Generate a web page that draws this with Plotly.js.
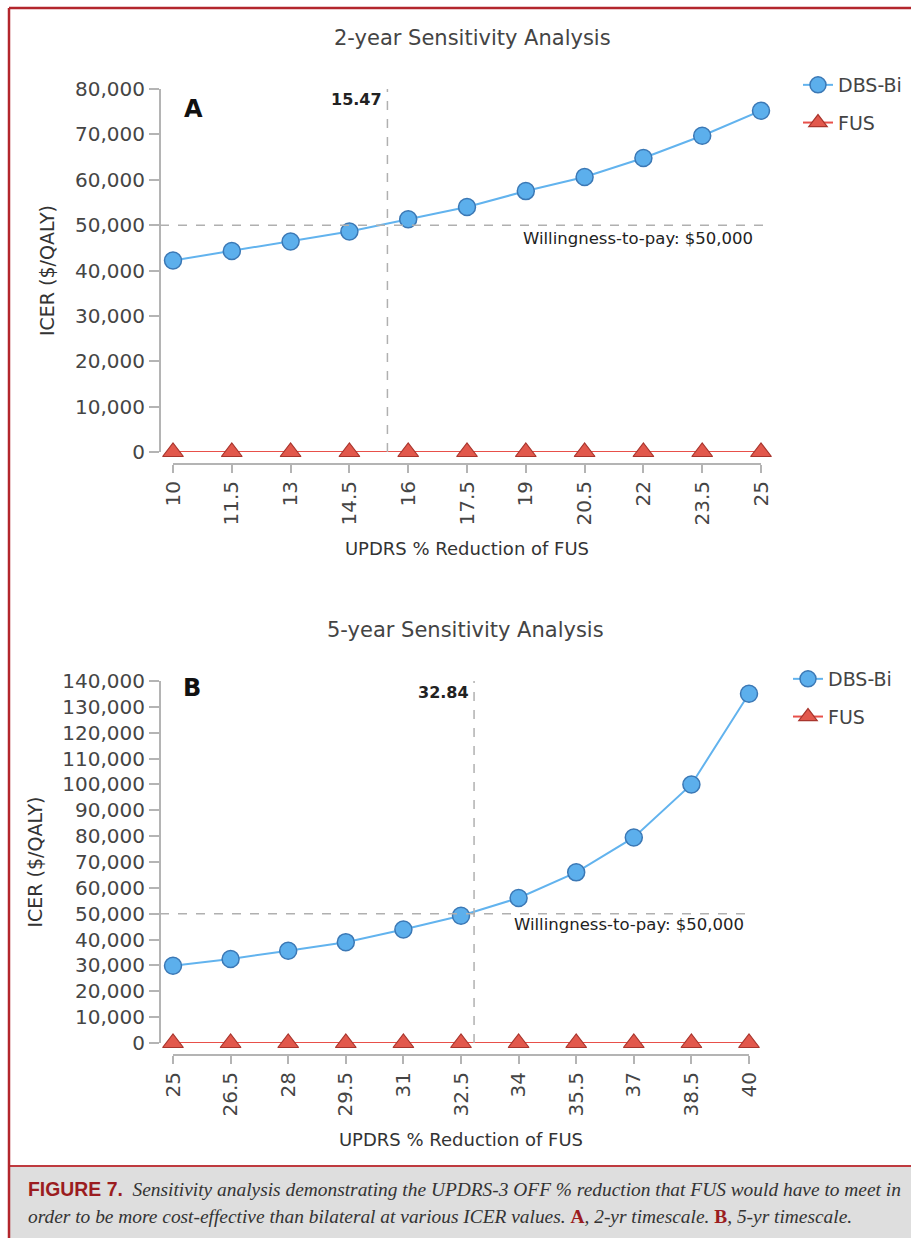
<!DOCTYPE html>
<html><head><meta charset="utf-8">
<script src="https://cdn.plot.ly/plotly-3.0.1.min.js"></script>
<style>html,body{margin:0;padding:0;background:#fff;}#chart{width:911px;height:1238px;}</style>
</head><body><div id="chart"></div>
<script>
// ---- data ----
const reductionA = [10, 11.5, 13, 14.5, 16, 17.5, 19, 20.5, 22, 23.5, 25];
const dbsBiA = [42200, 44300, 46400, 48600, 51300, 54000, 57500, 60600, 64800, 69700, 75200];
const fusA = [0, 0, 0, 0, 0, 0, 0, 0, 0, 0, 0];
const reductionB = [25, 26.5, 28, 29.5, 31, 32.5, 34, 35.5, 37, 38.5, 40];
const dbsBiB = [29900, 32500, 35700, 39000, 43900, 49200, 56100, 66000, 79500, 100000, 135100];
const fusB = [0, 0, 0, 0, 0, 0, 0, 0, 0, 0, 0];
const thresholdA = 15.47;
const thresholdB = 32.84;
const wtp = 50000;
const yTicksA = [0, 10000, 20000, 30000, 40000, 50000, 60000, 70000, 80000];
const yTicksB = [0, 10000, 20000, 30000, 40000, 50000, 60000, 70000, 80000, 90000, 100000, 110000, 120000, 130000, 140000];
const seriesNames = ['DBS-Bi', 'FUS'];
const titleA = '2-year Sensitivity Analysis';
const titleB = '5-year Sensitivity Analysis';
const xTitle = 'UPDRS % Reduction of FUS';
const yTitle = 'ICER ($/QALY)';
const wtpLabel = 'Willingness-to-pay: $50,000';

// ---- layout helpers (pixel -> paper) ----
const W = 911, H = 1238;
const px = v => v / W;
const py = v => 1 - v / H;

const SANS = 'DejaVu Sans';
const blue = '#5cafec', blueEdge = '#3b78b5', red = '#e2584c', redEdge = '#a8352d';
const axisGrey = '#b4b4b4';
const tickFont = {family: SANS, size: 20, color: '#454545'};

function dbsTrace(x, y, xa, ya, leg) {
  return {x: x, y: y, xaxis: xa, yaxis: ya, name: seriesNames[0], legend: leg, legendgroup: leg + 'a',
    mode: 'lines+markers', cliponaxis: false,
    line: {color: '#62b3ee', width: 2},
    marker: {size: 17, color: blue, line: {color: blueEdge, width: 1.5}}};
}
function fusTrace(x, y, xa, ya, leg) {
  return {x: x, y: y, xaxis: xa, yaxis: ya, name: seriesNames[1], legend: leg, legendgroup: leg + 'b',
    mode: 'lines+markers', cliponaxis: false,
    line: {color: '#e8504a', width: 2},
    marker: {symbol: 'triangle-up', size: 18, color: red, line: {color: redEdge, width: 1.2}}};
}

const data = [
  dbsTrace(reductionA, dbsBiA, 'x', 'y', 'legend'),
  fusTrace(reductionA, fusA, 'x', 'y', 'legend'),
  dbsTrace(reductionB, dbsBiB, 'x2', 'y2', 'legend2'),
  fusTrace(reductionB, fusB, 'x2', 'y2', 'legend2')
];

function xAxis(dom, cats, pos) {
  return {domain: dom, range: [cats[0], cats[cats.length - 1]], anchor: 'free', position: pos,
    tickmode: 'array', tickvals: cats, ticktext: cats.map(String), tickangle: -90,
    showline: true, linecolor: axisGrey, linewidth: 2, ticks: 'outside', ticklen: 8, tickwidth: 2, tickcolor: axisGrey,
    showgrid: false, zeroline: false, tickfont: tickFont,
    title: {text: xTitle, font: {family: SANS, size: 18, color: '#333'}, standoff: 17}};
}
function yAxis(dom, ticks, pos) {
  return {domain: dom, range: [0, ticks[ticks.length - 1]], anchor: 'free', position: pos,
    tickmode: 'array', tickvals: ticks, tickformat: ',d',
    showline: true, linecolor: axisGrey, linewidth: 2, ticks: 'outside', ticklen: 10, tickwidth: 2, tickcolor: axisGrey,
    showgrid: false, zeroline: false, tickfont: tickFont,
    title: {text: yTitle, font: {family: SANS, size: 19, color: '#333'}, standoff: 14}};
}
function yInner(over, ticks, pos) {
  return {overlaying: over, range: [0, ticks[ticks.length - 1]], anchor: 'free', position: pos,
    tickmode: 'array', tickvals: ticks, showticklabels: false, showline: false,
    ticks: 'inside', ticklen: 10, tickwidth: 2, tickcolor: axisGrey, showgrid: false, zeroline: false};
}

const dash = {color: '#b0b0b0', width: 1.5, dash: 'dash'};
const shapes = [
  // caption background and frame
  {type: 'rect', xref: 'paper', yref: 'paper', x0: px(10), x1: 1.02, y0: -0.02, y1: py(1166), fillcolor: '#dedede', line: {width: 0}, layer: 'below'},
  {type: 'line', xref: 'paper', yref: 'paper', x0: px(9), x1: 1.02, y0: py(1166), y1: py(1166), line: {color: '#bf3a3f', width: 2}},
  {type: 'line', xref: 'paper', yref: 'paper', x0: px(9), x1: 1.02, y0: py(8), y1: py(8), line: {color: '#b3262c', width: 2.5}},
  {type: 'line', xref: 'paper', yref: 'paper', x0: px(9), x1: px(9), y0: py(8), y1: -0.02, line: {color: '#b3262c', width: 2.5}},
  // panel A reference lines
  {type: 'line', xref: 'x', yref: 'y', x0: thresholdA, x1: thresholdA, y0: 0, y1: yTicksA[yTicksA.length - 1], line: dash},
  {type: 'line', xref: 'paper', yref: 'y', x0: px(160), x1: px(765), y0: wtp, y1: wtp, line: dash},
  // panel B reference lines
  {type: 'line', xref: 'x2', yref: 'y2', x0: thresholdB, x1: thresholdB, y0: 0, y1: yTicksB[yTicksB.length - 1], line: dash},
  {type: 'line', xref: 'paper', yref: 'y2', x0: px(160), x1: px(750), y0: wtp, y1: wtp, line: dash}
];

const red2 = '#9b1c20';
function ann(o) { return Object.assign({xref: 'paper', yref: 'paper', showarrow: false, xanchor: 'center', yanchor: 'middle'}, o); }
const annotations = [
  ann({text: titleA, x: px(472), y: py(38), font: {family: SANS, size: 21, color: '#444'}}),
  ann({text: titleB, x: px(466), y: py(630), font: {family: SANS, size: 21, color: '#444'}}),
  ann({text: '<b>A</b>', x: px(182), y: py(109), xanchor: 'left', font: {family: SANS, size: 24, color: '#111'}}),
  ann({text: '<b>B</b>', x: px(181), y: py(688), xanchor: 'left', font: {family: SANS, size: 24, color: '#111'}}),
  ann({text: '<b>' + thresholdA + '</b>', xref: 'x', x: thresholdA, y: py(100), xanchor: 'right', xshift: -3, font: {family: SANS, size: 16, color: '#222'}}),
  ann({text: '<b>' + thresholdB + '</b>', xref: 'x2', x: thresholdB, y: py(692), xanchor: 'right', xshift: -3, font: {family: SANS, size: 16, color: '#222'}}),
  ann({text: wtpLabel, x: px(755), y: py(238), xanchor: 'right', font: {family: SANS, size: 16.5, color: '#222'}}),
  ann({text: wtpLabel, x: px(746), y: py(924), xanchor: 'right', font: {family: SANS, size: 16.5, color: '#222'}}),
  ann({text: '<span style="font-family:Liberation Sans;color:' + red2 + '"><b>FIGURE 7.</b></span>&nbsp;&nbsp;<i>Sensitivity analysis demonstrating the UPDRS-3 OFF % reduction that FUS would have to meet in</i>',
   x: px(26), y: py(1189), xanchor: 'left', font: {family: 'Liberation Serif', size: 19.4, color: '#333'}}),
  ann({text: '<i>order to be more cost-effective than bilateral at various ICER values. </i><span style="color:' + red2 + '"><b>A</b></span><i>, 2-yr timescale. </i><span style="color:' + red2 + '"><b>B</b></span><i>, 5-yr timescale.</i>',
   x: px(26), y: py(1216), xanchor: 'left', font: {family: 'Liberation Serif', size: 19.4, color: '#333'}})
];

const legendBase = {bgcolor: 'rgba(0,0,0,0)', borderwidth: 0, font: {family: SANS, size: 19, color: '#444'},
  xanchor: 'left', yanchor: 'top', traceorder: 'grouped', tracegroupgap: 10, itemwidth: 30};

const layout = {
  width: W, height: H, margin: {l: 0, r: 0, t: 0, b: 0},
  paper_bgcolor: '#ffffff', plot_bgcolor: 'rgba(0,0,0,0)',
  font: {family: SANS, color: '#444'},
  xaxis: xAxis([px(173), px(761)], reductionA, py(464)),
  yaxis: yAxis([py(452), py(89)], yTicksA, px(160)),
  yaxis3: yInner('y', yTicksA, px(160)),
  xaxis2: xAxis([px(173), px(749)], reductionB, py(1055)),
  yaxis2: yAxis([py(1043), py(681)], yTicksB, px(160)),
  yaxis4: yInner('y2', yTicksB, px(160)),
  legend: Object.assign({}, legendBase, {x: px(798), y: py(66)}),
  legend2: Object.assign({}, legendBase, {x: px(788), y: py(660)}),
  shapes: shapes,
  annotations: annotations,
  showlegend: true
};

Plotly.newPlot('chart', data, layout, {displayModeBar: false, staticPlot: true});
</script>
</body></html>
